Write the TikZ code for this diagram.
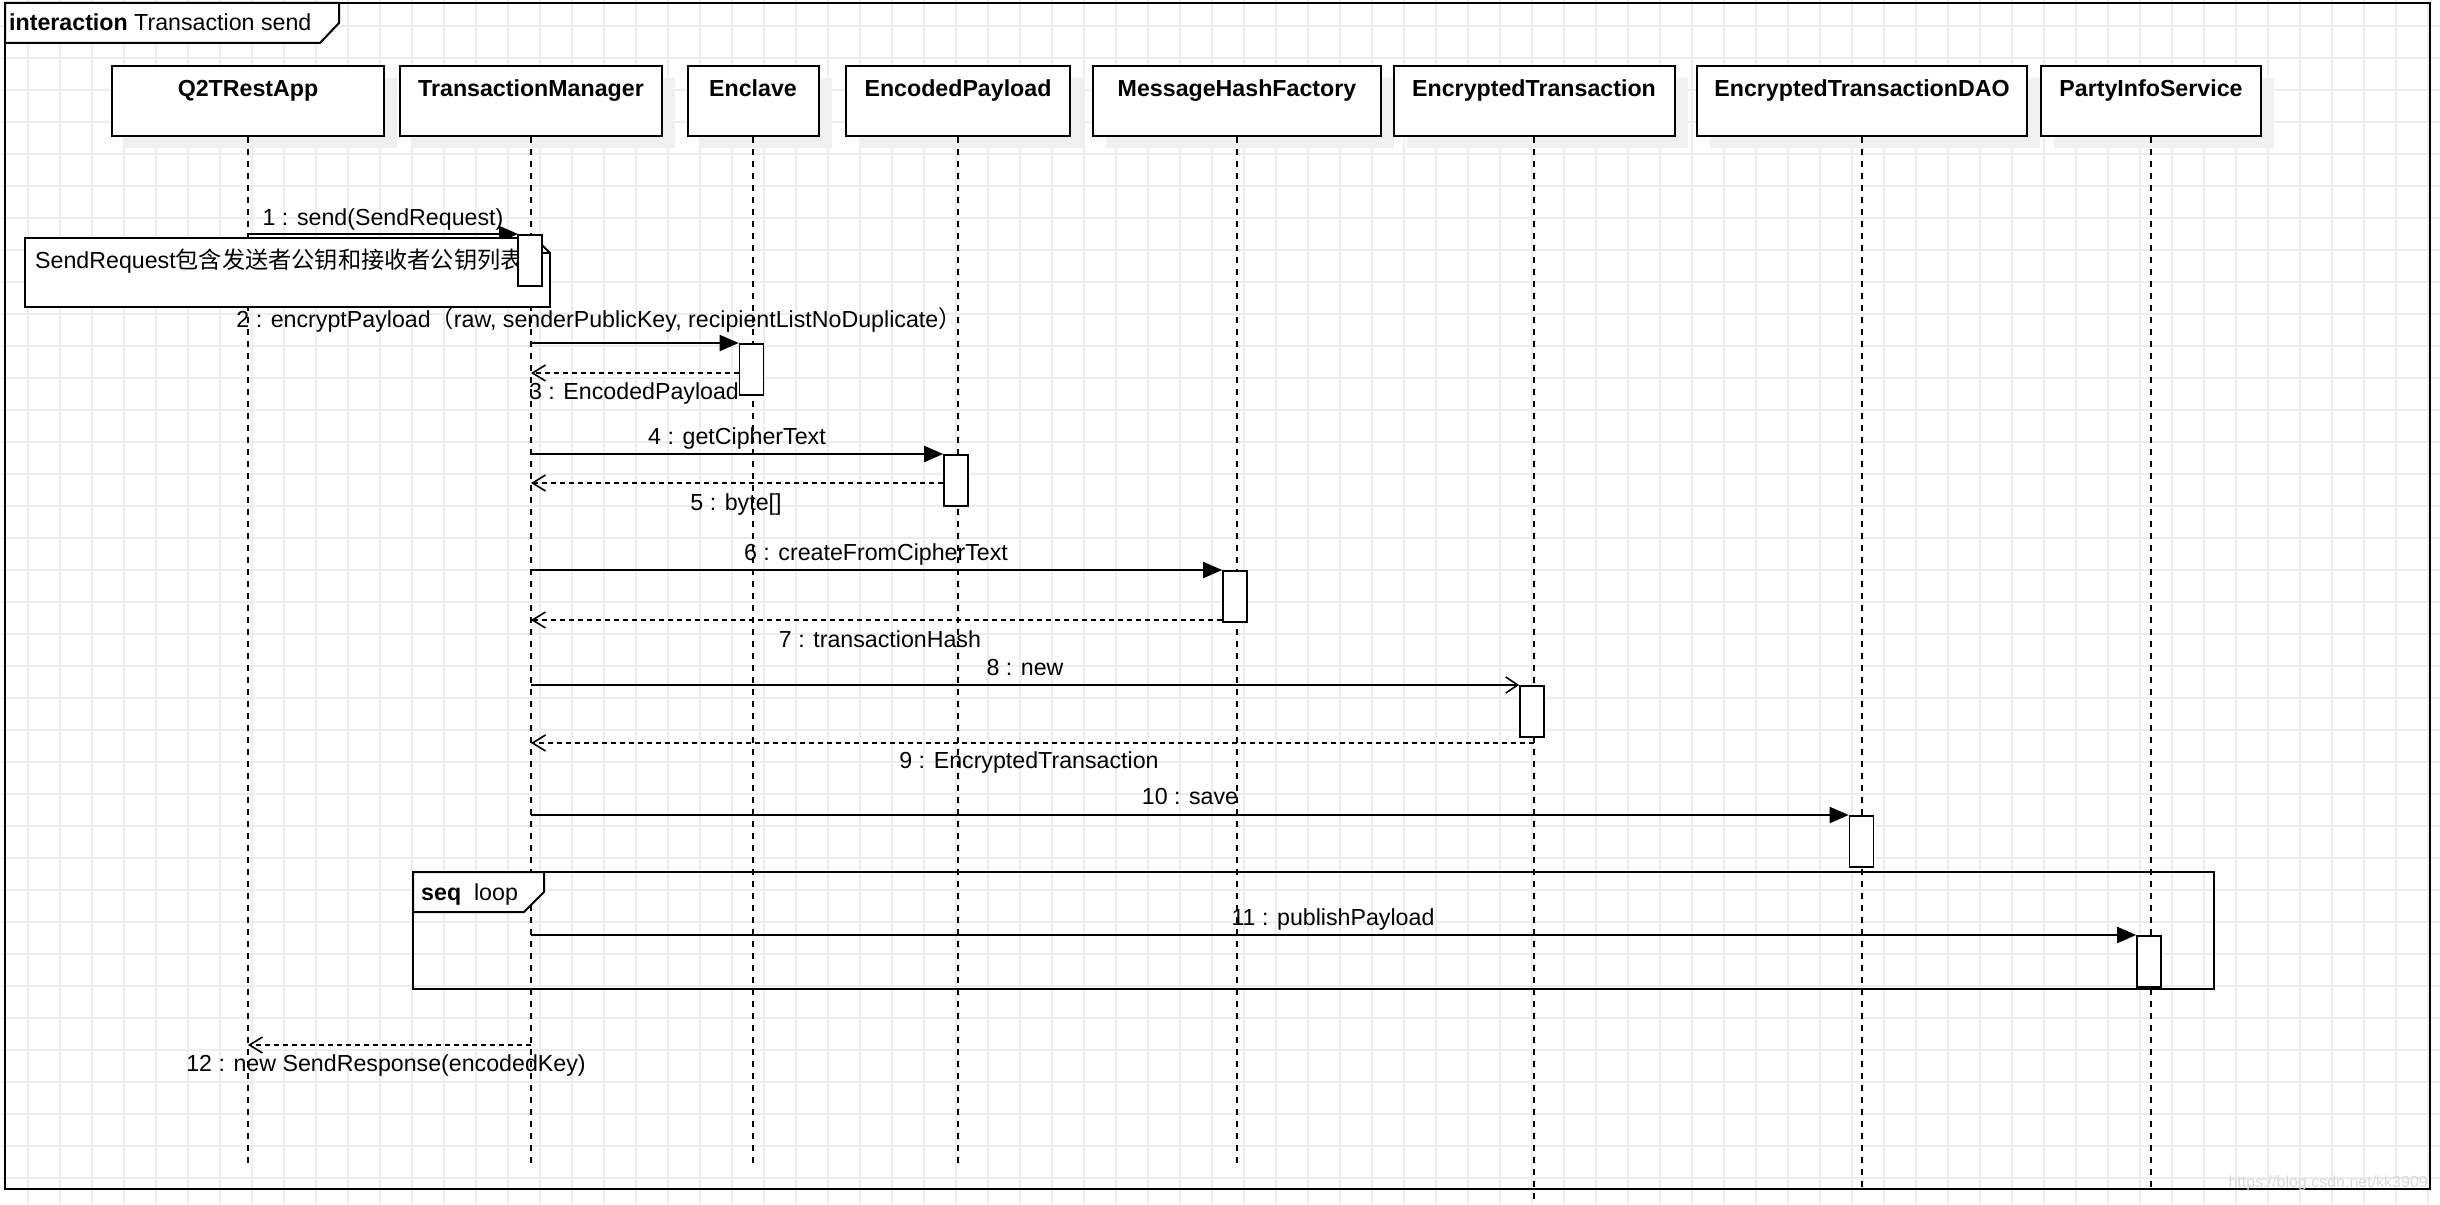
\documentclass[tikz,border=0pt]{standalone}
\usepackage{fontspec}
\setmainfont{Liberation Sans}
\newfontfamily\cjk{Noto Sans CJK SC}
\usetikzlibrary{arrows.meta,shadows}
\begin{document}
\begin{tikzpicture}[x=1pt,y=-1pt,
  every node/.style={font=\fontsize{23.2}{27}\selectfont, inner sep=0pt, text height=16.6pt, text depth=0pt},
  gridline/.style={draw=black!7, line width=1.2pt},
  frame/.style={draw=black, line width=2.2pt},
  tab/.style={draw=black, line width=2pt, fill=white},
  head/.style={draw=black, line width=2pt, fill=white, minimum height=70pt, text height=, text depth=,
    general shadow={fill=black!6, shadow xshift=13pt, shadow yshift=-12pt}},
  headtext/.style={font=\fontsize{23.2}{27}\selectfont\bfseries},
  lifeline/.style={draw=black, line width=1.6pt, dash pattern=on 6pt off 6pt},
  act/.style={draw=black, line width=1.6pt, fill=white, minimum width=24pt,
    minimum height=51pt, anchor=north, inner sep=0pt, text height=, text depth=},
  call/.style={draw=black, line width=1.8pt, -{Triangle[length=19pt,width=16pt]}},
  create/.style={draw=black, line width=1.8pt, -{Straight Barb[length=12pt,width=16pt,line width=1.6pt]}},
  ret/.style={draw=black, line width=1.6pt, dash pattern=on 5pt off 4pt,
    -{Straight Barb[length=13pt,width=16pt,line width=1.6pt]}},
  notebox/.style={draw=black, line width=1.8pt, fill=white},
]
\useasboundingbox (0,0) rectangle (2440,1204);
% background grid
\foreach \gx in {28,60,...,2440} \draw[gridline] (\gx,0) -- (\gx,1204);
\foreach \gy in {26,58,...,1204} \draw[gridline] (0,\gy) -- (2440,\gy);

% outer frame and title tab
\draw[frame] (5,3) rectangle (2430,1189);
\draw[tab] (5,3) -- (339,3) -- (339,23) -- (320,43) -- (5,43) -- cycle;
\node[anchor=west] (title) at (9,22) {{\bfseries interaction} Transaction send};

% lifeline heads
\node[head, minimum width=272pt] (q2t) at (248,101) {};
\node[head, minimum width=262pt] (tm)  at (531,101) {};
\node[head, minimum width=131pt] (enc) at (753,101) {};
\node[head, minimum width=224pt] (ep)  at (958,101) {};
\node[head, minimum width=288pt] (mhf) at (1237,101) {};
\node[head, minimum width=281pt] (et)  at (1534,101) {};
\node[head, minimum width=330pt] (dao) at (1862,101) {};
\node[head, minimum width=220pt] (pis) at (2151,101) {};
\node[headtext] (q2tT) at ([yshift=-23pt]q2t.north) {Q2TRestApp};
\node[headtext] (tmT)  at ([yshift=-23pt]tm.north)  {TransactionManager};
\node[headtext] (encT) at ([yshift=-23pt]enc.north) {Enclave};
\node[headtext] (epT)  at ([yshift=-23pt]ep.north)  {EncodedPayload};
\node[headtext] (mhfT) at ([yshift=-23pt]mhf.north) {MessageHashFactory};
\node[headtext] (etT)  at ([yshift=-23pt]et.north)  {EncryptedTransaction};
\node[headtext] (daoT) at ([yshift=-23pt]dao.north) {EncryptedTransactionDAO};
\node[headtext] (pisT) at ([yshift=-23pt]pis.north) {PartyInfoService};

% lifelines
\coordinate (e1) at (0,1168);
\coordinate (e2) at (0,1204);
\coordinate (e3) at (0,1188);
\draw[lifeline] (q2t.south) -- (q2t |- e1);
\draw[lifeline] (tm.south) -- (tm |- e1);
\draw[lifeline] (enc.south) -- (enc |- e1);
\draw[lifeline] (ep.south) -- (ep |- e1);
\draw[lifeline] (mhf.south) -- (mhf |- e1);
\draw[lifeline] (et.south) -- (et |- e2);
\draw[lifeline] (dao.south) -- (dao |- e3);
\draw[lifeline] (pis.south) -- (pis |- e3);

% loop combined fragment
\draw[draw=black, line width=2pt] (413,872) rectangle (2214,989);
\draw[tab] (413,872) -- (544,872) -- (544,892) -- (524,912) -- (413,912) -- cycle;
\node[anchor=west] (loopT) at (421,892) {{\bfseries seq}\ \ loop};

% activation boxes positions
\coordinate (a1) at (530,234);
\coordinate (a2) at (751.5,343);
\coordinate (a4) at (956,454);
\coordinate (a6) at (1235,570);
\coordinate (a8) at (1532,685);
\coordinate (a10) at (1861.5,815);
\coordinate (a11) at (2149,935);

% return levels
\coordinate (y3) at (0,373);
\coordinate (y5) at (0,483);
\coordinate (y7) at (0,620);
\coordinate (y9) at (0,743);
\coordinate (y12) at (0,1045);

% message 1 and note
\draw[call] (q2t |- a1) -- ([xshift=-12pt]a1);
\draw[notebox] (25,238) -- (535,238) -- (550,253) -- (550,307) -- (25,307) -- cycle;
\draw[draw=black, line width=1.5pt] (535,238) -- (535,253) -- (550,253);
\node[anchor=west] (note) at (35,260) {SendRequest{\cjk 包含发送者公钥和接收者公钥列表}};
\node[act] (act1) at (a1) {};

% activations
\node[act] (act2) at (a2) {};
\node[act] (act4) at (a4) {};
\node[act] (act6) at (a6) {};
\node[act] (act8) at (a8) {};
\node[act] (act10) at (a10) {};
\node[act] (act11) at (a11) {};

% messages
\draw[call] (tm |- act2.north west) -- (act2.north west);
\draw[ret] (act2.west |- y3) -- (tm |- y3);
\draw[call] (tm |- act4.north west) -- (act4.north west);
\draw[ret] (act4.west |- y5) -- (tm |- y5);
\draw[call] (tm |- act6.north west) -- (act6.north west);
\draw[ret] (act6.west |- y7) -- (tm |- y7);
\draw[create] (tm |- act8.north west) -- (act8.north west);
\draw[ret] (et |- y9) -- (tm |- y9);
\draw[call] (tm |- act10.north west) -- (act10.north west);
\draw[call] (tm |- act11.north west) -- (act11.north west);
\draw[ret] (tm |- y12) -- (q2t |- y12);

% message labels
\node (l1) at (383,217) {1 : send(SendRequest)};
\node (l2) at (599,319) {2 : encryptPayload{\cjk （}raw, senderPublicKey, recipientListNoDuplicate{\cjk ）}};
\node (l3) at (634,391) {3 : EncodedPayload};
\node (l4) at (737,436) {4 : getCipherText};
\node (l5) at (736,502) {5 : byte[]};
\node (l6) at (876,552) {6 : createFromCipherText};
\node (l7) at (880,639) {7 : transactionHash};
\node (l8) at (1025,667) {8 : new};
\node (l9) at (1029,760) {9 : EncryptedTransaction};
\node (l10) at (1190,796) {10 : save};
\node (l11) at (1333,917) {11 : publishPayload};
\node (l12) at (386,1063) {12 : new SendResponse(encodedKey)};

% watermark
\node[font=\fontsize{16}{18}\selectfont, text height=, text depth=, text=black!15, anchor=east] (wm) at (2428,1183) {https://blog.csdn.net/kk3909};
\end{tikzpicture}
\end{document}
